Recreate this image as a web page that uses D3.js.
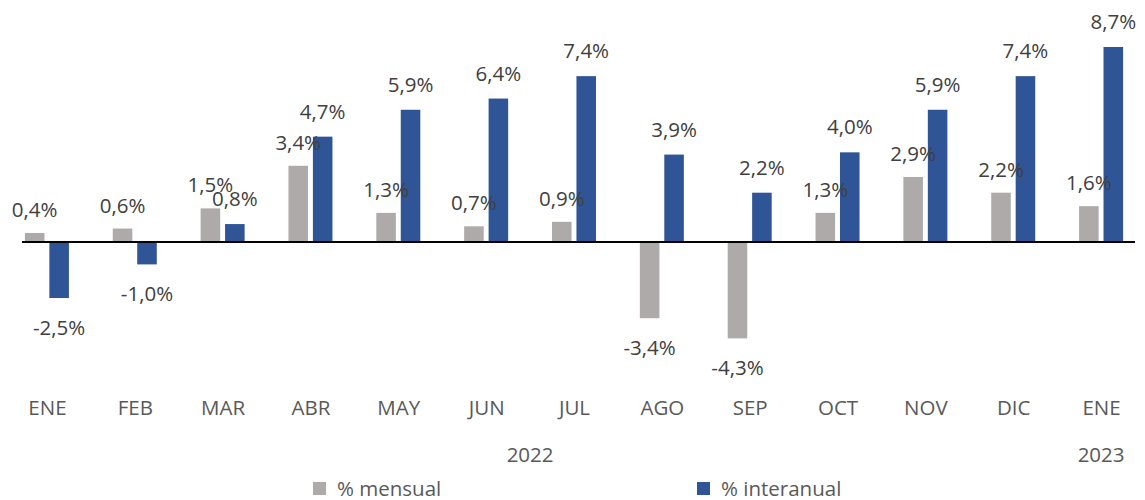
<!DOCTYPE html>
<html>
<head>
<meta charset="utf-8">
<script src="https://cdn.jsdelivr.net/npm/d3@7"></script>
<style>
  body { margin: 0; background: #fff; }
  svg { font-family: 'Open Sans', sans-serif; }
</style>
</head>
<body>
<div id="viz"></div>
<script>
const months = ['ENE', 'FEB', 'MAR', 'ABR', 'MAY', 'JUN', 'JUL', 'AGO', 'SEP', 'OCT', 'NOV', 'DIC', 'ENE'];
const mensual = [0.4, 0.6, 1.5, 3.4, 1.3, 0.7, 0.9, -3.4, -4.3, 1.3, 2.9, 2.2, 1.6];
const interanual = [-2.5, -1.0, 0.8, 4.7, 5.9, 6.4, 7.4, 3.9, 2.2, 4.0, 5.9, 7.4, 8.7];
const years = [{ label: '2022', from: 0, to: 11 }, { label: '2023', from: 12, to: 12 }];
const seriesNames = ['% mensual', '% interanual'];

const width = 1145, height = 500;
const colorScale = d3.scaleOrdinal().domain(seriesNames).range(['#aeaaaa', '#2f5597']);
const fmt = v => v.toFixed(1).replace('.', ',') + '%';
const fontSize = '20.5px';

const svg = d3.select('#viz').append('svg')
  .attr('width', width)
  .attr('height', height);

const idx = months.map((m, i) => i);
const xScale = d3.scalePoint().domain(idx).range([3, 1145]).padding(0.5);
const xInner = d3.scaleBand().domain(seriesNames).range([-22, 22]).paddingInner(0.2);
const yScale = d3.scaleLinear().domain([0, 8.7]).range([242, 47]);

const data = [];
idx.forEach(i => {
  data.push({ i, s: seriesNames[0], v: mensual[i] });
  data.push({ i, s: seriesNames[1], v: interanual[i] });
});

// bars
svg.selectAll('rect.bar')
  .data(data)
  .enter().append('rect')
  .attr('class', 'bar')
  .attr('x', d => xScale(d.i) + xInner(d.s))
  .attr('y', d => yScale(Math.max(0, d.v)))
  .attr('width', xInner.bandwidth())
  .attr('height', d => Math.abs(yScale(d.v) - yScale(0)))
  .style('fill', d => colorScale(d.s));

// value labels
svg.selectAll('text.val')
  .data(data)
  .enter().append('text')
  .attr('class', 'val')
  .attr('x', d => xScale(d.i) + xInner(d.s) + xInner.bandwidth() / 2)
  .attr('y', d => d.v >= 0 ? yScale(d.v) - (d.s === seriesNames[0] ? 16 : 18) : yScale(d.v) + 37)
  .attr('text-anchor', 'middle')
  .style('font-size', fontSize)
  .style('fill', '#404040')
  .text(d => fmt(d.v));

// zero line
svg.append('line')
  .attr('x1', 22)
  .attr('x2', 1135)
  .attr('y1', yScale(0))
  .attr('y2', yScale(0))
  .style('stroke', '#000')
  .style('stroke-width', 2);

// category axis
const xAxis = svg.append('g')
  .attr('transform', 'translate(0, 394)')
  .call(d3.axisBottom(xScale).tickSize(0).tickPadding(0).tickFormat(i => months[i]));
xAxis.select('.domain').remove();
xAxis.selectAll('text')
  .attr('dy', '0')
  .attr('y', 21)
  .style('font-family', "'Open Sans', sans-serif")
  .style('font-size', fontSize)
  .style('fill', '#595959');

// years
svg.selectAll('text.year')
  .data(years)
  .enter().append('text')
  .attr('class', 'year')
  .attr('x', d => (xScale(d.from) + xScale(d.to)) / 2)
  .attr('y', 462)
  .attr('text-anchor', 'middle')
  .style('font-size', fontSize)
  .style('fill', '#595959')
  .text(d => d.label);

// legend
const legendX = [313, 697];
const legendItem = svg.selectAll('.legend-item')
  .data(seriesNames)
  .enter().append('g')
  .attr('class', 'legend-item')
  .attr('transform', (d, i) => `translate(${legendX[i]}, 482)`);

legendItem.append('rect')
  .attr('width', 13)
  .attr('height', 13)
  .style('fill', d => colorScale(d));

legendItem.append('text')
  .attr('x', 24)
  .attr('y', 14)
  .style('font-size', fontSize)
  .style('fill', '#595959')
  .text(d => d);
</script>
</body>
</html>
